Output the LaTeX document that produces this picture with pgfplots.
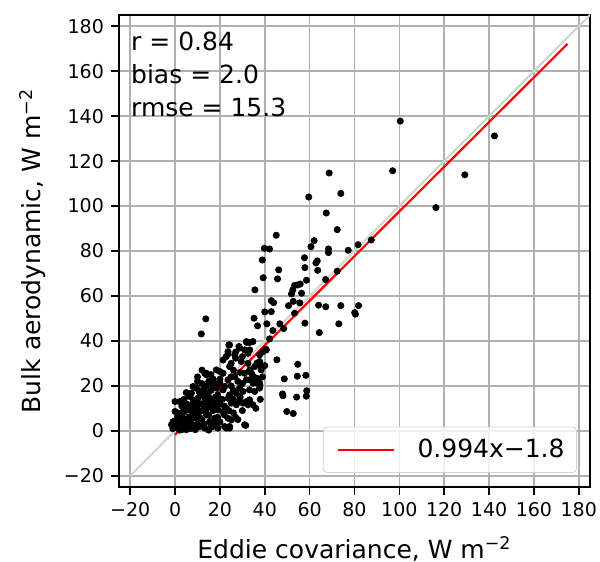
\documentclass[border=0pt]{standalone}
\usepackage{fontspec}
\setmainfont{DejaVu Sans}
\usepackage{pgfplots}
\pgfplotsset{compat=1.18}
\definecolor{gridgray}{HTML}{B0B0B0}
\definecolor{onetoone}{HTML}{D3D3D3}
\definecolor{fitred}{HTML}{FF0000}

\newcommand{\labfont}{\fontsize{12.5}{15}\selectfont}
\newcommand{\tickfont}{\fontsize{9.5}{11}\selectfont}

\begin{document}
\begin{tikzpicture}
\begin{axis}[
  scale only axis,
  width=235.5pt, height=236pt,
  xmin=-25, xmax=185, ymin=-25, ymax=185,
  xtick={-20,0,...,180}, ytick={-20,0,...,180},
  xticklabels={−20,0,20,40,60,80,100,120,140,160,180},
  yticklabels={−20,0,20,40,60,80,100,120,140,160,180},
  tick label style={font=\tickfont},
  xtick pos=bottom, ytick pos=left,
  tick align=outside,
  major tick length=4pt,
  tick style={black, line width=0.8pt},
  axis line style={black, line width=0.9pt},
  grid=major,
  grid style={gridgray, line width=0.8pt},
  xlabel={Eddie covariance, W m\textsuperscript{−2}},
  ylabel={Bulk aerodynamic, W m\textsuperscript{−2}},
  label style={font=\labfont},
  xlabel style={at={(axis description cs:0.5,0)}, anchor=base, yshift=-35.5pt},
  ylabel style={at={(axis description cs:0,0.5)}, anchor=base, yshift=39pt},
  legend style={
    at={(rel axis cs:0.9724,0.0297)}, anchor=south east,
    draw=gray!35, rounded corners=2pt, fill=white, fill opacity=0.8,
    text opacity=1, font=\labfont, inner xsep=4pt, inner ysep=4pt,
  },
  legend cell align=left,
  legend image code/.code={%
    \path (0pt,0pt) (40pt,0pt);
    \draw[#1] (3pt,0pt) -- (31pt,0pt);},
]
% scatter of paired fluxes
\addplot[only marks, mark=*, mark size=1.55pt, black, forget plot] coordinates {
(100.4,137.8) (142.4,131.2) (97.0,115.7) (129.2,113.9) (116.3,99.3)
(68.7,114.7) (73.9,105.6) (59.6,104.0) (67.4,96.9) (72.3,89.5)
(87.5,84.9) (81.6,82.8) (77.2,80.3) (62.0,84.6) (60.6,81.9)
(68.4,80.9) (68.4,79.3) (57.7,77.0) (63.4,75.6) (62.8,74.7)
(57.9,72.6) (63.6,71.4) (72.3,71.0) (67.1,67.3) (58.6,67.0)
(45.1,87.0) (39.8,81.2) (42.1,80.9) (38.9,76.0) (46.2,71.6)
(39.3,68.1) (45.7,67.6) (35.6,62.7) (53.3,64.7) (54.7,64.9)
(55.8,65.3) (52.5,62.7) (51.9,60.9) (56.4,61.2) (42.9,57.9)
(43.9,57.0) (52.7,57.6) (55.6,56.9) (50.6,55.7) (64.0,55.9)
(67.2,55.2) (73.9,55.7) (81.8,55.7) (80.1,52.6) (80.4,51.9)
(40.0,52.9) (42.9,53.0) (53.3,52.3) (35.2,50.1) (40.9,47.6)
(36.8,46.7) (46.7,47.6) (48.4,45.5) (57.9,47.9) (73.0,47.6)
(64.3,43.7) (43.6,44.6) (42.1,40.9) (40.4,36.3) (45.4,31.6)
(54.7,29.6) (48.7,23.1) (54.5,24.3) (58.3,24.7) (47.9,16.4)
(48.1,15.6) (58.7,17.8) (58.5,15.4) (54.2,15.0) (49.8,8.6)
(52.7,7.7) (37.8,20.4) (37.2,23.0) (13.7,49.8) (11.7,43.1)
(33.3,36.0) (33.3,27.1) (34.1,25.6) (34.8,24.1) (34.8,21.2)
(33.3,12.3) (37.7,29.3) (36.5,30.1)
(31.8,39.7) (34.7,39.7) (28.8,36.8) (24.3,38.2) (23.6,35.2)
(26.6,33.8) (37.7,33.8) (39.2,35.2) (40.7,36.0) (38.4,27.1)
(34.7,24.1) (36.9,21.2) (31.8,22.7) (33.2,18.2) (30.3,12.3)
(32.5,11.6) (31.5,2.4) (24.3,1.9) (22.9,1.2) (18.4,4.1) (14.0,25.6)
(0.0,13.0) (1.3,7.9) (-0.9,3.4) (0.6,1.9) (2.8,6.4) (4.3,8.6)
(8.8,10.8) (7.3,16.8) (9.5,19.0) (11.0,16.8) (12.5,16.0)
(24.0,38.2) (28.5,37.5) (32.0,39.3) (33.2,39.3) (31.0,36.0)
(32.5,34.5) (23.6,34.2) (22.8,33.0) (21.4,31.5) (27.0,32.3)
(29.5,30.8) (32.5,30.0) (37.7,30.8) (24.3,28.6) (35.5,28.6)
(18.4,27.1) (19.9,26.4) (21.4,25.6) (13.2,25.6) (14.0,24.9)
(31.0,25.6) (33.2,26.4) (26.6,24.1) (23.6,22.7) (33.2,22.7)
(36.2,23.4) (37.7,21.2) (22.1,19.7) (21.4,18.2) (16.9,20.4)
(18.4,19.0) (8.0,19.7) (9.5,19.0) (12.5,18.2) (28.8,19.0)
(30.3,17.5) (27.3,16.7) (35.5,17.5) (37.7,19.0) (24.3,16.0)
(23.6,14.5) (33.2,13.8) (31.7,13.0) (34.7,11.6) (19.9,13.8)
(17.7,13.0) (6.5,15.3) (8.0,13.8) (10.2,14.5) (2.1,13.0)
(13.2,13.0) (12.5,11.6) (7.3,11.6) (9.5,10.5) (15.4,10.8)
(25.1,12.3) (27.3,11.6) (28.8,13.0) (5.0,10.1) (3.6,8.6)
(0.0,8.6) (11.0,8.6) (13.9,9.3) (19.1,9.3) (21.4,8.6)
(23.6,5.6) (25.1,4.9) (17.7,5.6) (15.4,4.1) (8.0,7.1)
(9.5,5.6) (5.8,4.1) (4.3,2.7) (-0.9,4.1) (-1.6,2.7)
(2.1,2.7) (1.3,1.2) (11.0,1.9) (13.2,1.2) (16.9,1.9)
(19.1,1.2) (22.1,1.9) (24.3,1.2) (31.0,2.7) (6.5,1.9) (8.0,2.7)
(10,22) (12,21) (15,22) (17,23) (11,17) (14,17) (15,15) (16,18)
(19,16) (20,21) (18,11) (14,7) (12,5) (10,3) (7,9) (6,6) (4,5)
(3,11) (1,6) (3,0.5) (9,0.5) (15,0.3) (20,4) (22,11) (25,20)
(26,27) (28,22) (29,26) (30,33) (27,35) (25,30) (16,25) (12,27)
(10,24) (5,17) (4,14) (26,8) (28,5) (30,9) (36,10) (38,14)
(39,24) (40,29)
(2,4) (3,7) (5,12) (6,3) (7,5) (9,8) (10,12) (11,6) (12,9)
(13,15) (14,11) (15,7) (16,13) (17,9) (18,15) (19,6) (20,12)
(21,14) (22,7) (23,10) (24,9) (26,14) (27,6) (29,15) (30,21)
(16,2) (13,3) (7,1) (5,0.5) (2,0.3) (0.5,3) (-1,1) (26,18)
(25,24) (20,23) (18,21) (14,20) (11,12)
};
% 1:1 line
\addplot[onetoone, line width=1pt, forget plot] coordinates {(-20,-20) (190,190)};
% least squares fit
\addplot[fitred, line width=1.1pt] coordinates {(0,-1.8) (175,172.15)};
\addlegendentry{0.994x−1.8}
\node[anchor=north west, align=left, inner sep=0pt,
      font=\fontsize{12.5}{16.5}\selectfont]
  at (rel axis cs:0.025,0.965) {r = 0.84\\bias = 2.0\\rmse = 15.3};
\end{axis}
\pgfresetboundingbox
\path (current axis.south west) ++(-59.5pt,-37.5pt) coordinate (bbsw);
\path (current axis.north east) ++(5pt,7.5pt) coordinate (bbne);
\useasboundingbox (bbsw) rectangle (bbne);
\end{tikzpicture}
\end{document}
